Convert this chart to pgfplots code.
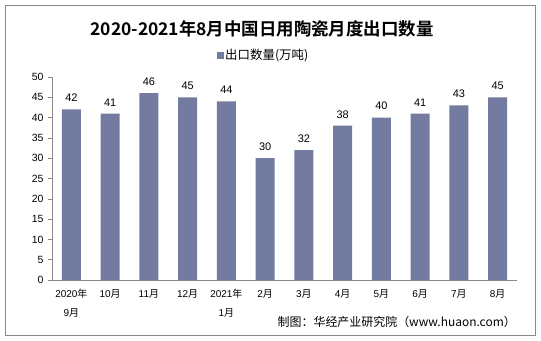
\documentclass[border=0pt]{standalone}
\usepackage{pgfplots}
\pgfplotsset{compat=1.18}
\usepackage{fontspec}
\setmainfont{Liberation Sans}
\newfontfamily\cjk{Noto Sans CJK SC}
\newfontfamily\cjkb{Noto Sans CJK SC Bold}
\newcommand{\Y}{{\cjk 月}}
\newcommand{\N}{{\cjk 年}}
\definecolor{barc}{HTML}{737BA0}
\definecolor{axc}{HTML}{888888}
\begin{document}
\begin{tikzpicture}[x=1bp,y=1bp]
\path[use as bounding box] (0,0) rectangle (541,340);
\draw[color=axc, line width=0.8bp] (5,5) rectangle (535,335);
\begin{axis}[
  at={(52bp,60bp)}, anchor=south west,
  scale only axis, width=465bp, height=203bp,
  ymin=0, ymax=50, ytick={0,5,...,50},
  xmin=-0.5, xmax=11.5,
  xtick={0,...,11},
  xticklabels={{2020\N\\9\Y},10\Y,11\Y,12\Y,{2021\N\\1\Y},2\Y,3\Y,4\Y,5\Y,6\Y,7\Y,8\Y},
  xticklabel style={font=\fontsize{10}{19}\selectfont, align=center, anchor=north, yshift=-2bp},
  major x tick style={draw=none},
  extra x ticks={-0.5,0.5,...,11.5},
  extra x tick labels={},
  extra x tick style={tick style={draw=axc, line width=0.6bp}, major tick length=4bp, tick align=outside},
  yticklabel style={font=\fontsize{10.5}{11}\selectfont, xshift=-1bp},
  /pgf/number format/assume math mode=true,
  axis x line*=bottom, axis y line*=left,
  axis line style={draw=axc, line width=0.6bp, -},
  y tick style={draw=axc, line width=0.6bp},
  tick align=outside, major tick length=4bp,
  ybar, bar width=19bp,
  nodes near coords,
  every node near coord/.style={font=\fontsize{11}{11}\selectfont, black, yshift=4bp},
  clip=false,
]
\addplot[fill=barc, draw=none] coordinates {(0,42)(1,41)(2,46)(3,45)(4,44)(5,30)(6,32)(7,38)(8,40)(9,41)(10,43)(11,45)};
\end{axis}
\node[font=\cjkb\fontsize{17.5}{18}\selectfont] at (262,311) {2020-2021年8月中国日用陶瓷月度出口数量};
\fill[barc] (217,281) rectangle (224,288);
\node[font=\cjk\fontsize{12.5}{13}\selectfont, anchor=west, inner sep=1bp] at (224,284.5) {出口数量(万吨)};
\node[font=\cjk\fontsize{12}{13}\selectfont, anchor=east, inner sep=0pt] at (516,18) {制图：华经产业研究院（www.huaon.com）};
\end{tikzpicture}
\end{document}
